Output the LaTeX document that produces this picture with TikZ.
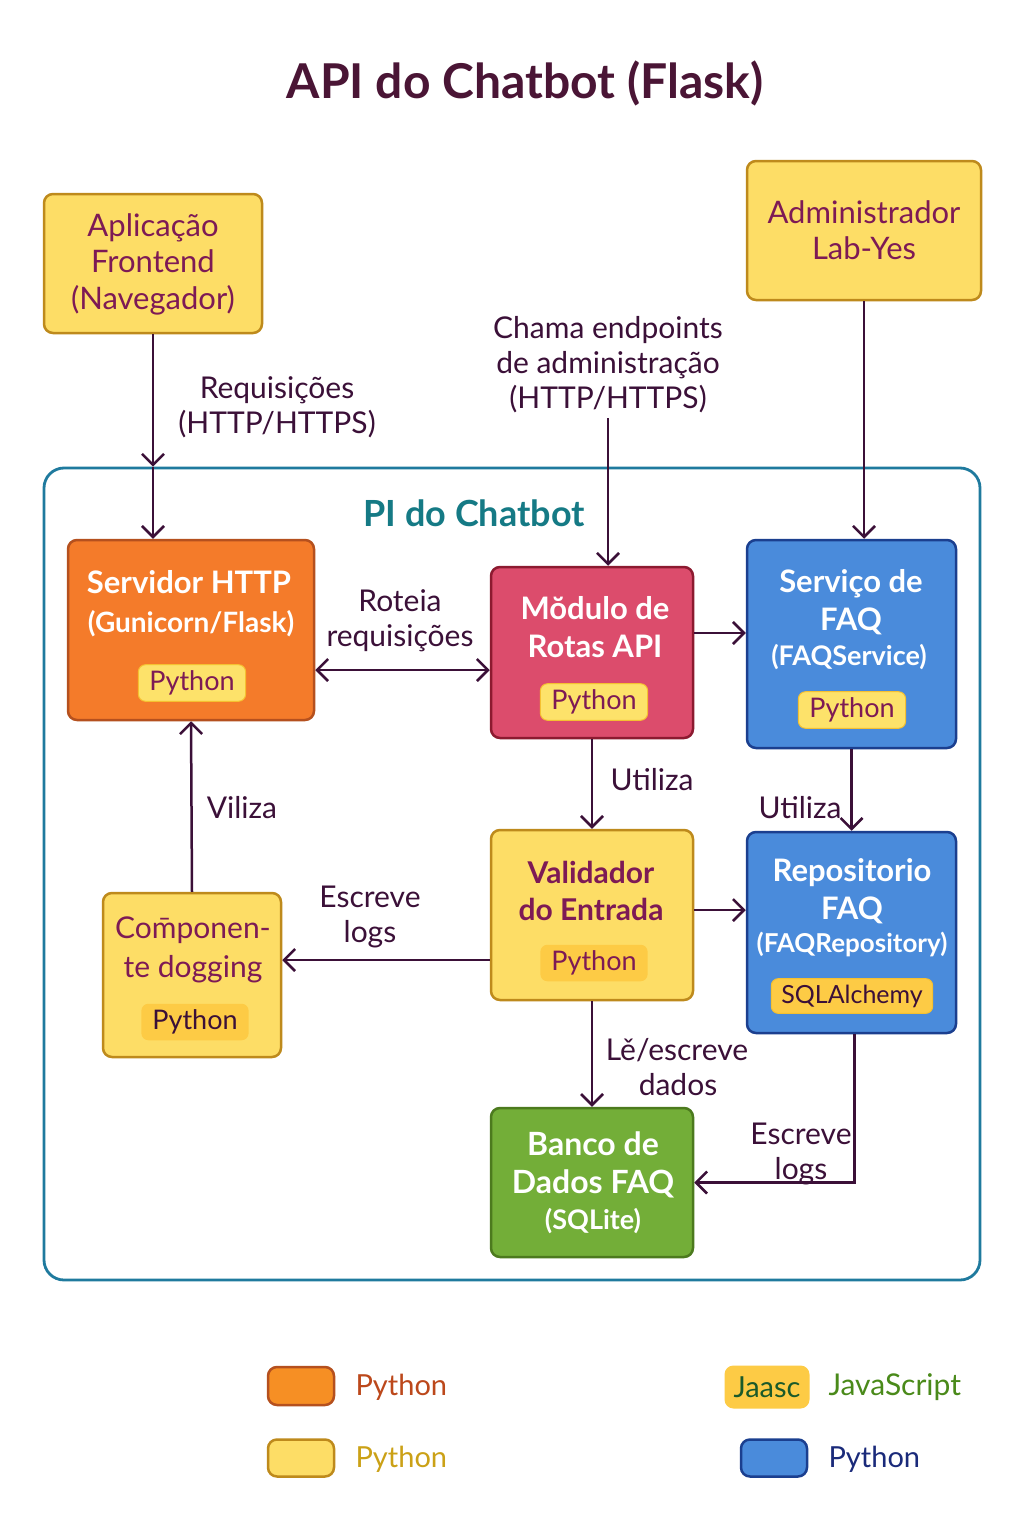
\documentclass[tikz,border=0pt]{standalone}
\usepackage{fontspec}
\setmainfont{Lato}
\usetikzlibrary{arrows.meta,calc}
\definecolor{ink}{HTML}{3B1038}
\definecolor{titlec}{HTML}{4A1535}
\definecolor{yfill}{HTML}{FDDD66}
\definecolor{ydraw}{HTML}{BE8A1C}
\definecolor{ptext}{HTML}{7D1A55}
\definecolor{ofill}{HTML}{F47B2A}
\definecolor{odraw}{HTML}{B5501E}
\definecolor{rfill}{HTML}{DC4C6C}
\definecolor{rdraw}{HTML}{8C1A30}
\definecolor{bfill}{HTML}{4A8BDB}
\definecolor{bdraw}{HTML}{1B3F8F}
\definecolor{gfill}{HTML}{73AE38}
\definecolor{gdraw}{HTML}{4C7A1E}
\definecolor{badgefill}{HTML}{FDE26A}
\definecolor{badgedraw}{HTML}{F5C030}
\definecolor{badgefillb}{HTML}{FDCB45}
\definecolor{contc}{HTML}{1F7A9E}
\definecolor{pic}{HTML}{157A85}
\tikzset{
  mytip/.tip={Straight Barb[length=11pt,width=22pt,line width=2.5pt]},
  box/.style={draw, rounded corners=9pt, line width=2.5pt, inner sep=0pt},
  ybox/.style={box, fill=yfill, draw=ydraw},
  badge/.style={rounded corners=7pt, inner xsep=11pt, inner ysep=6pt, font=\fontsize{27}{30}\selectfont, text=ptext},
  wtitle/.style={text=white, align=center, font=\bfseries\fontsize{31}{38}\selectfont},
  ptitle/.style={text=ptext, align=center, font=\fontsize{31}{36.5}\selectfont},
  lbl/.style={text=ink, align=center, font=\fontsize{30}{35}\selectfont},
  arr/.style={draw=ink, line width=2.5pt, -{mytip}},
  darr/.style={draw=ink, line width=2.5pt, {mytip}-{mytip}},
  leg/.style={anchor=west, font=\fontsize{29}{32}\selectfont},
}
\begin{document}
\begin{tikzpicture}[x=1pt,y=-1pt]
\useasboundingbox (0,0) rectangle (1024,1536);
\fill[white] (0,0) rectangle (1024,1536);
% title
\node[text=titlec, font=\bfseries\fontsize{48}{54}\selectfont] (title) at (525,83) {API do Chatbot (Flask)};
% container
\node[draw=contc, line width=2.8pt, rounded corners=20pt, minimum width=936pt, minimum height=812pt] (cont) at (512,874) {};
\node[text=pic, font=\bfseries\fontsize{36}{40}\selectfont] (pit) at (474,513) {PI do Chatbot};
% outer boxes
\node[ybox, minimum width=218pt, minimum height=139pt] (front) at (153,263.5) {};
\node[ptitle] (frontt) at (153,264) {Aplicação\\Frontend\\(Navegador)};
\node[ybox, minimum width=234pt, minimum height=139pt] (admin) at (864,230.5) {};
\node[ptitle] (admint) at (864,230) {Administrador\\Lab-Yes};
% servidor
\node[box, fill=ofill, draw=odraw, minimum width=246pt, minimum height=180pt] (srv) at (191,630) {};
\node[wtitle] (srvt) at (189,582) {Servidor HTTP};
\node[text=white, font=\bfseries\fontsize{28}{30}\selectfont] (srvs) at (191,624) {(Gunicorn/Flask)};
\node[badge, fill=badgefill, draw=badgedraw, line width=1pt] (srvb) at (192,683) {Python};
% modulo
\node[box, fill=rfill, draw=rdraw, minimum width=202pt, minimum height=171pt] (mod) at (592,652.5) {};
\node[wtitle] (modt) at (595,627) {Mŏdulo de\\Rotas API};
\node[badge, fill=badgefill, draw=badgedraw, line width=1pt] (modb) at (594,702) {Python};
% servico
\node[box, fill=bfill, draw=bdraw, minimum width=209pt, minimum height=208pt] (svc) at (851.5,644) {};
\node[wtitle] (svct) at (851,602) {Serviço de\\FAQ};
\node[text=white, font=\bfseries\fontsize{27}{30}\selectfont] (svcs) at (849,657) {(FAQService)};
\node[badge, fill=badgefill, draw=badgedraw, line width=1pt] (svcb) at (852,710) {Python};
% validador
\node[ybox, minimum width=202pt, minimum height=170pt] (val) at (592,915) {};
\node[ptitle, font=\bfseries\fontsize{30}{37}\selectfont] (valt) at (591,891) {Validador\\do Entrada};
\node[badge, fill=badgefillb] (valb) at (594,963) {Python};
% repositorio
\node[box, fill=bfill, draw=bdraw, minimum width=209pt, minimum height=201pt] (repo) at (851.5,932.5) {};
\node[wtitle] (repot) at (852,891) {Repositorio\\FAQ};
\node[text=white, font=\bfseries\fontsize{26}{28}\selectfont] (repos) at (852,944) {(FAQRepository)};
\node[badge, fill=badgefillb, draw=badgedraw, line width=1pt, text=ink, inner xsep=10pt, font=\fontsize{25}{28}\selectfont] (repob) at (852,996) {SQLAlchemy};
% componente
\node[ybox, minimum width=178pt, minimum height=164pt] (comp) at (192,975) {};
\node[ptitle, font=\fontsize{30}{39}\selectfont] (compt) at (193,950) {Com̄ponen-\\te dogging};
\node[badge, fill=badgefillb, text=ink] (compb) at (195,1022) {Python};
% banco
\node[box, fill=gfill, draw=gdraw, minimum width=202pt, minimum height=149pt] (db) at (592,1182.5) {};
\node[wtitle, font=\bfseries\fontsize{32}{38}\selectfont] (dbt) at (593,1165) {Banco de\\Dados FAQ};
\node[text=white, font=\bfseries\fontsize{27}{30}\selectfont] (dbs) at (593,1221) {(SQLite)};
% coordinates
\coordinate (chamaend) at (608,418);
\coordinate (yrot) at (0,670);
\coordinate (ysvc) at (0,633);
\coordinate (ylog) at (0,960);
\coordinate (yrep) at (0,910);
% connectors
\draw[arr] (front.south) -- (front.south |- cont.north);
\draw[arr] (front.south |- cont.north) -- (front.south |- srv.north);
\draw[arr] (chamaend) -- (chamaend |- mod.north);
\draw[arr] (admin.south) -- (admin.south |- svc.north);
\draw[darr] (srv.east |- yrot) -- (mod.west |- yrot);
\draw[arr] (mod.east |- ysvc) -- (svc.west |- ysvc);
\draw[arr] (mod.south) -- (val.north);
\draw[arr] (svc.south) -- (repo.north);
\draw[arr] (comp.north) -- (srv.south);
\draw[arr] (val.west |- ylog) -- (comp.east |- ylog);
\draw[arr] (val.east |- yrep) -- (repo.west |- yrep);
\draw[arr] (val.south) -- (db.north);
\draw[arr] ([xshift=3pt]repo.south) |- (db.east);
% labels
\node[lbl] (l1) at (277,407) {Requisições\\(HTTP/HTTPS)};
\node[lbl] (l2) at (608,365) {Chama endpoints\\de administração\\(HTTP/HTTPS)};
\node[lbl] (l3) at (400,621) {Roteia\\requisições};
\node[lbl] (l4) at (652,780) {Utiliza};
\node[lbl] (l5) at (800,808) {Utiliza};
\node[lbl] (l6) at (242,808) {Viliza};
\node[lbl] (l7) at (370,917) {Escreve\\logs};
\node[lbl] (l8) at (677,1067) {Lě/escreve\\\hspace*{2pt}dados};
\node[lbl] (l9) at (801,1154) {Escreve\\logs};
% legend
\node[draw=odraw, fill=ofill!85!yellow, line width=2.5pt, rounded corners=9pt, minimum width=66pt, minimum height=38pt] (sw1) at (301,1386) {};
\node[leg, text=odraw!90!red] (lt1) at (352,1387) {Python};
\node[draw=ydraw, fill=yfill, line width=2.5pt, rounded corners=9pt, minimum width=66pt, minimum height=37pt] (sw2) at (301,1458) {};
\node[leg, text=ydraw!80!yellow] (lt2) at (352,1459) {Python};
\node[fill=badgefillb, rounded corners=9pt, minimum width=85pt, minimum height=43pt, inner xsep=4pt, text={rgb,255:red,26;green,90;blue,42}, font=\fontsize{29}{32}\selectfont] (sw3) at (767,1387) {Jaasc};
\node[leg, text={rgb,255:red,74;green,138;blue,26}, font=\fontsize{30}{32}\selectfont] (lt3) at (825,1387) {JavaScript};
\node[draw=bdraw, fill=bfill, line width=2.5pt, rounded corners=9pt, minimum width=66pt, minimum height=37pt] (sw4) at (774,1458) {};
\node[leg, text={rgb,255:red,26;green,42;blue,122}] (lt4) at (825,1459) {Python};
\end{tikzpicture}
\end{document}
